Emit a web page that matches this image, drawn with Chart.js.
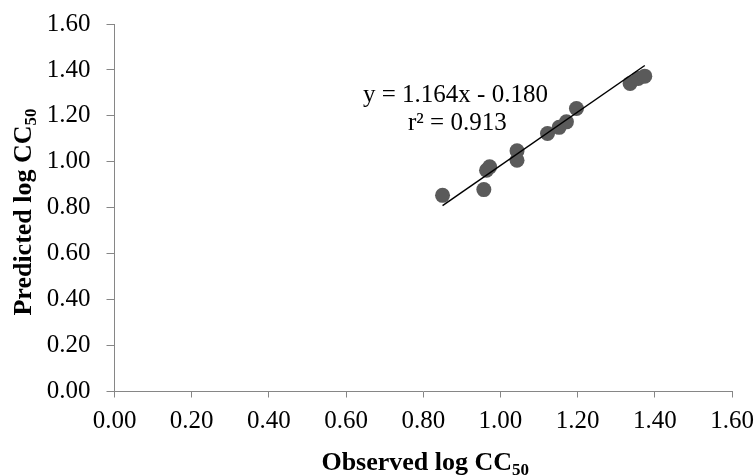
<!DOCTYPE html>
<html>
<head>
<meta charset="utf-8">
<script src="https://cdn.jsdelivr.net/npm/chart.js@4"></script>
<style>
    html, body { margin: 0; padding: 0; background: #ffffff; }
    #wrap { width: 756px; height: 475px; }
</style>
</head>
<body>
<div id="wrap"><canvas id="scatterChart" width="756" height="475"></canvas></div>
<script>
// ----------------------------------------------------
// DATA
// ----------------------------------------------------
const observed  = [0.850, 0.957, 0.964, 0.972, 1.043, 1.043, 1.122, 1.152, 1.171, 1.197, 1.336, 1.357, 1.374];
const predicted = [0.854, 0.879, 0.963, 0.978, 1.048, 1.007, 1.123, 1.150, 1.174, 1.232, 1.341, 1.363, 1.373];
const tickValues = [0.00, 0.20, 0.40, 0.60, 0.80, 1.00, 1.20, 1.40, 1.60];
const trendSlope = 1.164;
const trendIntercept = -0.180;
const equationText = 'y = 1.164x - 0.180';
const r2Text = 'r\u00B2 = 0.913';

const serif = "'Liberation Serif', 'Times New Roman', serif";
const axisGray = '#868686';

const points = observed.map((x, i) => ({ x: x, y: predicted[i] }));
const xMin = Math.min(...observed);
const xMax = Math.max(...observed);
const trendPoints = [xMin, xMax].map(x => ({ x: x, y: trendSlope * x + trendIntercept }));

// title with a subscript part, centred on x
function drawSubText(ctx, main, sub, x, y, size) {
    ctx.font = `bold ${size}px ${serif}`;
    const wMain = ctx.measureText(main).width;
    ctx.font = `bold ${Math.round(size * 0.65)}px ${serif}`;
    const wSub = ctx.measureText(sub).width;
    const left = x - (wMain + wSub) / 2;
    ctx.textAlign = 'left';
    ctx.textBaseline = 'alphabetic';
    ctx.font = `bold ${size}px ${serif}`;
    ctx.fillText(main, left, y);
    ctx.font = `bold ${Math.round(size * 0.65)}px ${serif}`;
    ctx.fillText(sub, left + wMain, y + size * 0.2);
}

const labelsPlugin = {
    id: 'labels',
    afterDraw(chart) {
        const ctx = chart.ctx;
        const area = chart.chartArea;
        ctx.save();
        ctx.fillStyle = '#000000';

        // axis titles
        drawSubText(ctx, 'Observed log CC', '50', (area.left + area.right) / 2 + 2, 470, 26);
        ctx.save();
        ctx.translate(31, 212);
        ctx.rotate(-Math.PI / 2);
        drawSubText(ctx, 'Predicted log CC', '50', 0, 0, 26);
        ctx.restore();

        // trend equation
        ctx.font = `25px ${serif}`;
        ctx.textAlign = 'left';
        ctx.textBaseline = 'alphabetic';
        ctx.fillText(equationText, 363, 102);
        ctx.fillText(r2Text, 408, 130);
        ctx.restore();
    }
};

new Chart(document.getElementById('scatterChart'), {
    type: 'scatter',
    data: {
        datasets: [
            {
                type: 'line',
                data: trendPoints,
                borderColor: '#000000',
                borderWidth: 1.5,
                pointRadius: 0,
                fill: false,
                order: 0
            },
            {
                data: points,
                backgroundColor: '#5a5a5a',
                borderWidth: 0,
                pointRadius: 7.5,
                pointHoverRadius: 7.5,
                order: 1
            }
        ]
    },
    options: {
        responsive: false,
        animation: false,
        events: [],
        layout: { padding: { top: 24, right: 24, left: 0, bottom: 0 } },
        plugins: { legend: { display: false }, tooltip: { enabled: false } },
        scales: {
            x: {
                type: 'linear',
                min: 0, max: 1.6,
                afterBuildTicks: (s) => { s.ticks = tickValues.map(v => ({ value: v })); },
                afterFit: (s) => { s.height = 83.5; s.paddingLeft = 0; s.paddingRight = 0; },
                ticks: {
                    color: '#000000',
                    font: { family: serif, size: 25 },
                    padding: 9,
                    maxRotation: 0,
                    callback: (v) => Number(v).toFixed(2)
                },
                grid: { drawOnChartArea: false, drawTicks: true, tickLength: 6, color: axisGray },
                border: { color: axisGray, width: 1 }
            },
            y: {
                type: 'linear',
                min: 0, max: 1.6,
                afterBuildTicks: (s) => { s.ticks = tickValues.map(v => ({ value: v })); },
                afterFit: (s) => { s.width = 114.5; s.paddingTop = 0; s.paddingBottom = 0; },
                ticks: {
                    color: '#000000',
                    font: { family: serif, size: 25 },
                    padding: 16,
                    callback: (v) => Number(v).toFixed(2)
                },
                grid: { drawOnChartArea: false, drawTicks: true, tickLength: 8, color: axisGray },
                border: { color: axisGray, width: 1 }
            }
        }
    },
    plugins: [labelsPlugin]
});
</script>
</body>
</html>
